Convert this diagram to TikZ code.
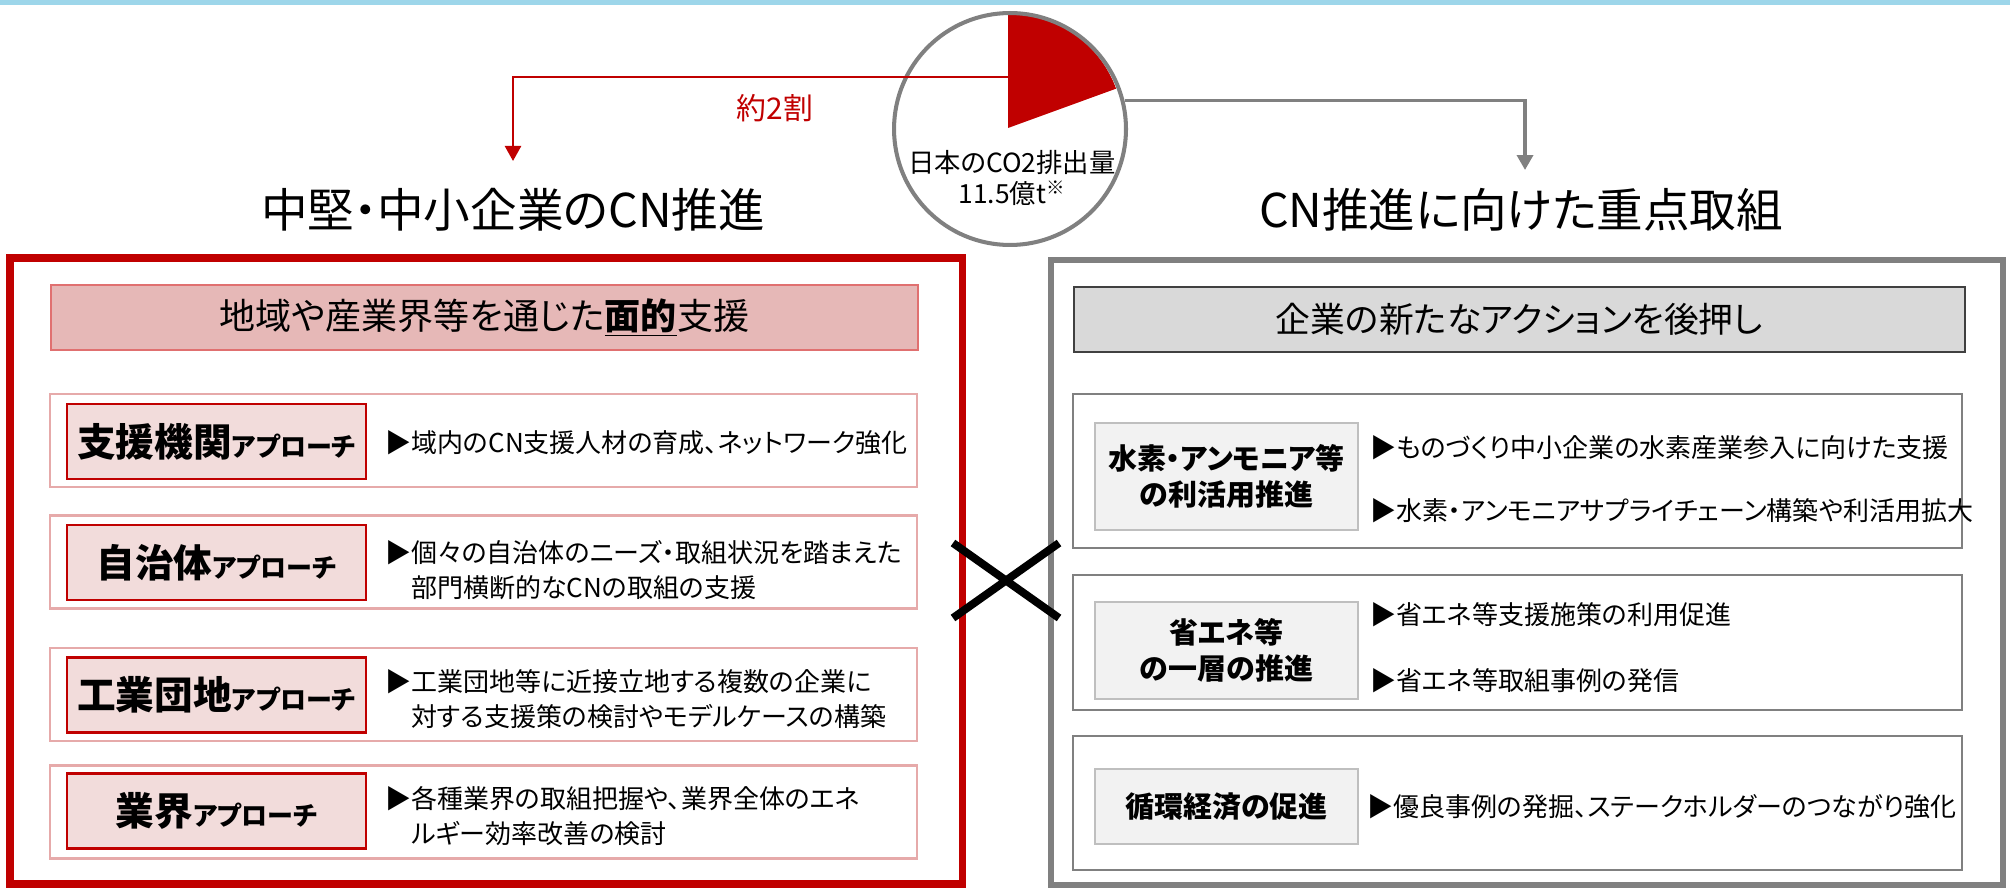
\documentclass[tikz,border=0pt]{standalone}
\usepackage{fontspec}
\setmainfont{Noto Sans CJK JP}[RawFeature=+palt]
\usetikzlibrary{arrows.meta}

\definecolor{cnred}{HTML}{C00000}
\definecolor{cngray}{HTML}{808080}
\definecolor{bandblue}{HTML}{9DD6EA}
\definecolor{pinkhead}{HTML}{E6B8B7}
\definecolor{pinkedge}{HTML}{E07070}
\definecolor{pinkline}{HTML}{E6AAAA}
\definecolor{pinkfill}{HTML}{F2DCDB}
\definecolor{greyhead}{HTML}{D9D9D9}
\definecolor{greyfill}{HTML}{F2F2F2}
\definecolor{greyline}{HTML}{BFBFBF}

\newcommand{\appr}[1]{{\fontsize{22pt}{26pt}\selectfont\bfseries #1}{\fontsize{14.8pt}{17pt}\selectfont\bfseries アプローチ}}

\begin{document}
\begin{tikzpicture}[
  x=0.02cm, y=-0.02cm,
  title/.style={font=\fontsize{26.5pt}{30pt}\selectfont},
  head_l/.style={draw=pinkedge, line width=0.9pt, fill=pinkhead, minimum width=17.34cm, minimum height=1.3cm, font=\fontsize{20.5pt}{24pt}\selectfont},
  head_r/.style={draw=black!75, line width=0.9pt, fill=greyhead, minimum width=17.82cm, minimum height=1.3cm, font=\fontsize{19.8pt}{24pt}\selectfont},
  row_l/.style={draw=pinkline, line width=1.4pt, minimum width=17.34cm, minimum height=1.86cm},
  row_r/.style={draw=cngray, line width=1.2pt, minimum width=17.78cm},
  lab_l/.style={draw=cnred, line width=1.4pt, fill=pinkfill, minimum width=5.98cm, minimum height=1.5cm},
  lab_r/.style={draw=greyline, line width=1.4pt, fill=greyfill, minimum width=5.26cm, align=center, font=\fontsize{16.5pt}{20.5pt}\selectfont\bfseries},
  txt/.style={anchor=west, inner sep=0pt, align=left, font=\fontsize{14.8pt}{20pt}\selectfont},
  red_frame/.style={draw=cnred, line width=4pt},
  grey_frame/.style={draw=cngray, line width=3.8pt},
  red_arrow/.style={draw=cnred, line width=1.4pt, -{Triangle[length=0.3cm,width=0.32cm]}},
  grey_arrow/.style={draw=cngray, line width=2pt, -{Triangle[length=0.3cm,width=0.32cm]}},
  cross/.style={draw=black, line width=4.5pt}
  ]
	\useasboundingbox (0,0) rectangle (2010,888);
	\fill[bandblue] (0,0) rectangle (2010,5);

	\fill[cnred] (1008,128) -- (1008,13) arc[start angle=-90, end angle=-20, radius=115] -- cycle;
	\node[circle, draw=cngray, line width=2.3pt, minimum size=4.64cm] (co2) at (1010,129) {};
	\node[align=center, font=\fontsize{15pt}{17.8pt}\selectfont] (co2t) at (1012,178) {日本のCO2排出量\\11.5億t\textsuperscript{※}};

	\coordinate (pie) at (1008,77);
	\coordinate (red_end) at (513,161);
	\coordinate (grey_end) at (1525,170);
	\draw[red_arrow] (pie) -| (red_end);
	\draw[grey_arrow] (co2.14) -| (grey_end);
	\node[text=cnred, font=\fontsize{17pt}{20pt}\selectfont] (share) at (775,108) {約2割};

	\node[title] (T1) at (513,210) {中堅・中小企業のCN推進};
	\node[title] (T2) at (1521,210) {CN推進に向けた重点取組};

	\draw[red_frame] (10,258) rectangle (962,884);
	\draw[grey_frame] (1051,260) rectangle (2003,885);

	\node[head_l] (LH) at (484.5,317.5) {地域や産業界等を通じた\underline{\textbf{面的}}支援};

	\node[row_l] (L1) at (483.5,440.5) {};
	\node[row_l] (L2) at (483.5,562) {};
	\node[row_l] (L3) at (483.5,694.5) {};
	\node[row_l] (L4) at (483.5,812) {};

	\node[lab_l] (L1b) at (216.5,441.5) {\appr{支援機関}};
	\node[lab_l] (L2b) at (216.5,562.5) {\appr{自治体}};
	\node[lab_l] (L3b) at (216.5,695) {\appr{工業団地}};
	\node[lab_l] (L4b) at (216.5,811) {\appr{業界}};

	\node[txt] (L1t) at (385,443) {▶域内のCN支援人材の育成、ネットワーク強化};
	\node[txt] (L2t) at (385,570.5) {▶個々の自治体のニーズ・取組状況を踏まえた\\\phantom{▶}部門横断的なCNの取組の支援};
	\node[txt] (L3t) at (385,699.5) {▶工業団地等に近接立地する複数の企業に\\\phantom{▶}対する支援策の検討やモデルケースの構築};
	\node[txt] (L4t) at (385,816) {▶各種業界の取組把握や、業界全体のエネ\\\phantom{▶}ルギー効率改善の検討};

	\node[head_r] (RH) at (1519.5,319.5) {企業の新たなアクションを後押し};

	\node[row_r, minimum height=3.08cm] (R1) at (1517.5,471) {};
	\node[row_r, minimum height=2.7cm] (R2) at (1517.5,642.5) {};
	\node[row_r, minimum height=2.68cm] (R3) at (1517.5,803) {};

	\node[lab_r, minimum height=2.14cm] (R1b) at (1226.5,476.5) {水素・アンモニア等\\の利活用推進};
	\node[lab_r, minimum height=1.94cm] (R2b) at (1226.5,650.5) {省エネ等\\の一層の推進};
	\node[lab_r, minimum height=1.5cm] (R3b) at (1226.5,806.5) {循環経済の促進};

	\node[txt] (R1t) at (1370,448) {▶ものづくり中小企業の水素産業参入に向けた支援};
	\node[txt] (R1u) at (1370,511) {▶水素・アンモニアサプライチェーン構築や利活用拡大};
	\node[txt] (R2t) at (1370,615) {▶省エネ等支援施策の利用促進};
	\node[txt] (R2u) at (1370,681) {▶省エネ等取組事例の発信};
	\node[txt] (R3t) at (1367,807) {▶優良事例の発掘、ステークホルダーのつながり強化};

	\draw[cross] (953,543) -- (1059,618) (953,618) -- (1059,543);
\end{tikzpicture}
\end{document}
